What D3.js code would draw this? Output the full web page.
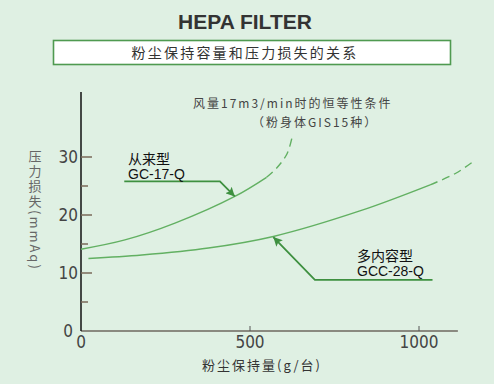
<!DOCTYPE html>
<html>
<head>
<meta charset="utf-8">
<script src="https://cdn.jsdelivr.net/npm/d3@7"></script>
<style>
  html, body { margin: 0; padding: 0; background: #dff0e3; }
  svg { display: block; }
</style>
</head>
<body>
<div id="chart"></div>
<script>
const width = 494;
const height = 384;

// curve readings: [dust held (g), pressure loss (mmAq)]
const gcSolid = [[0, 14.1], [130, 15.7], [278, 18.6], [455, 23.2], [549, 26.5]];
const gcDashed = [[549, 26.5], [579, 28.1], [610, 30.6], [626, 33.8]];
const gccSolid = [[22, 12.5], [180, 13.1], [377, 14.3], [569, 16.3], [825, 20.7], [1033, 25.2]];
const gccDashed = [[1033, 25.2], [1109, 27.2], [1158, 29.1]];

// leader arrows: [start, knee, tip]
const gcArrow = [[128, 25.8], [411, 25.8], [455, 23.2]];
const gccArrow = [[1040, 8.8], [692, 8.8], [569, 16.2]];

const xTicks = [0, 500, 1000];
const yTicks = [0, 10, 20, 30];
const yMinor = [5, 15, 25];

const svg = d3.select("#chart")
    .append("svg")
    .attr("width", width)
    .attr("height", height);

svg.append("rect")
    .attr("width", width)
    .attr("height", height)
    .attr("fill", "#dff0e3");

const x = d3.scaleLinear().domain([0, 1000]).range([81, 419]);
const y = d3.scaleLinear().domain([0, 30]).range([331, 157]);

// title
svg.append("text")
    .attr("x", 245)
    .attr("y", 29)
    .attr("text-anchor", "middle")
    .attr("font-family", "Liberation Sans, Arial, sans-serif")
    .attr("font-weight", "bold")
    .attr("font-size", 21)
    .attr("fill", "#333")
    .text("HEPA FILTER");

svg.append("rect")
    .attr("x", 53.5)
    .attr("y", 40.5)
    .attr("width", 397)
    .attr("height", 24)
    .attr("fill", "#fff")
    .attr("stroke", "#4f9a50")
    .attr("stroke-width", 1.6);

svg.append("text")
    .attr("x", 245)
    .attr("y", 58)
    .attr("text-anchor", "middle")
    .attr("font-family", "Noto Sans CJK SC, sans-serif")
    .attr("font-size", 14)
    .attr("letter-spacing", 2.2)
    .attr("fill", "#333")
    .text("粉尘保持容量和压力损失的关系");

// axes
svg.append("line")
    .attr("x1", x(0)).attr("x2", x(1115))
    .attr("y1", y(0)).attr("y2", y(0))
    .attr("stroke", "#8a8a80")
    .attr("stroke-width", 2);

svg.append("line")
    .attr("x1", x(0)).attr("x2", x(0))
    .attr("y1", y(0)).attr("y2", y(41.2))
    .attr("stroke", "#111")
    .attr("stroke-width", 1.5);

svg.selectAll(".ytick")
    .data(yTicks.filter(d => d > 0))
    .enter()
    .append("line")
    .attr("x1", x(0)).attr("x2", x(0) + 11)
    .attr("y1", d => y(d)).attr("y2", d => y(d))
    .attr("stroke", "#7a6a5a")
    .attr("stroke-width", 1.5);

svg.selectAll(".yminor")
    .data(yMinor)
    .enter()
    .append("line")
    .attr("x1", x(0)).attr("x2", x(0) + 7)
    .attr("y1", d => y(d)).attr("y2", d => y(d))
    .attr("stroke", "#7a6a5a")
    .attr("stroke-width", 1.5);

svg.selectAll(".xtick")
    .data(xTicks.filter(d => d > 0))
    .enter()
    .append("line")
    .attr("x1", d => x(d)).attr("x2", d => x(d))
    .attr("y1", y(0)).attr("y2", y(0) - 5)
    .attr("stroke", "#555")
    .attr("stroke-width", 1);

const tickFont = "Liberation Sans Narrow, DejaVu Sans Condensed, sans-serif";

svg.selectAll(".ylabel")
    .data(yTicks)
    .enter()
    .append("text")
    .attr("x", d => d === 0 ? 73 : 78)
    .attr("y", d => y(d) + 6)
    .attr("text-anchor", "end")
    .attr("font-family", tickFont)
    .attr("font-size", 17)
    .attr("fill", "#444")
    .text(d => d);

svg.selectAll(".xlabel")
    .data(xTicks)
    .enter()
    .append("text")
    .attr("x", d => x(d))
    .attr("y", y(0) + 17)
    .attr("text-anchor", "middle")
    .attr("font-family", tickFont)
    .attr("font-size", 17)
    .attr("fill", "#444")
    .text(d => d);

// axis titles
svg.append("text")
    .attr("x", 262)
    .attr("y", 370)
    .attr("text-anchor", "middle")
    .attr("font-family", "Noto Sans CJK SC, sans-serif")
    .attr("font-size", 13)
    .attr("letter-spacing", 2)
    .attr("fill", "#333")
    .text("粉尘保持量(g/台)");

svg.append("text")
    .attr("x", 35)
    .attr("y", 150)
    .style("writing-mode", "vertical-rl")
    .style("text-orientation", "mixed")
    .attr("font-family", "Noto Sans CJK SC, sans-serif")
    .attr("font-size", 13)
    .attr("letter-spacing", 2)
    .attr("fill", "#666")
    .text("压力损失(mmAq)");

// curves
const line = d3.line()
    .x(d => x(d[0]))
    .y(d => y(d[1]))
    .curve(d3.curveCatmullRom.alpha(0.5));

[[gcSolid, null], [gcDashed, "8,5"], [gccSolid, null], [gccDashed, "8,5"]].forEach(([data, dash]) => {
    svg.append("path")
        .datum(data)
        .attr("d", line)
        .attr("fill", "none")
        .attr("stroke", "#62b062")
        .attr("stroke-width", 1.4)
        .attr("stroke-dasharray", dash);
});

// leader arrows
svg.append("defs").append("marker")
    .attr("id", "arrowhead")
    .attr("viewBox", "0 0 10 10")
    .attr("refX", 10)
    .attr("refY", 5)
    .attr("markerWidth", 14)
    .attr("markerHeight", 9)
    .attr("markerUnits", "userSpaceOnUse")
    .attr("orient", "auto")
    .append("path")
    .attr("d", "M0,0L10,5L0,10L2,5Z")
    .attr("fill", "#3e9040");

const straight = d3.line().x(d => x(d[0])).y(d => y(d[1]));

[gcArrow, gccArrow].forEach(data => {
    svg.append("path")
        .datum(data)
        .attr("d", straight)
        .attr("fill", "none")
        .attr("stroke", "#3e9040")
        .attr("stroke-width", 1.8)
        .attr("marker-end", "url(#arrowhead)");
});

// curve labels
const labelFont = "Liberation Sans, Noto Sans CJK SC, sans-serif";
const labels = [
    ["从来型", 128, 164], ["GC-17-Q", 128, 179],
    ["多内容型", 357, 261], ["GCC-28-Q", 357, 276]
];
svg.selectAll(".clabel")
    .data(labels)
    .enter()
    .append("text")
    .attr("x", d => d[1])
    .attr("y", d => d[2])
    .attr("font-family", labelFont)
    .attr("font-size", 14)
    .attr("fill", "#111")
    .text(d => d[0]);

// condition note
svg.append("text")
    .attr("x", 193)
    .attr("y", 108)
    .attr("font-family", "Noto Sans CJK SC, sans-serif")
    .attr("font-size", 12)
    .attr("letter-spacing", 2)
    .attr("fill", "#444")
    .text("风量17m3/min时的恒等性条件");

svg.append("text")
    .attr("x", 252)
    .attr("y", 127)
    .attr("font-family", "Noto Sans CJK SC, sans-serif")
    .attr("font-size", 12)
    .attr("letter-spacing", 2)
    .attr("fill", "#444")
    .text("（粉身体GIS15种）");
</script>
</body>
</html>
